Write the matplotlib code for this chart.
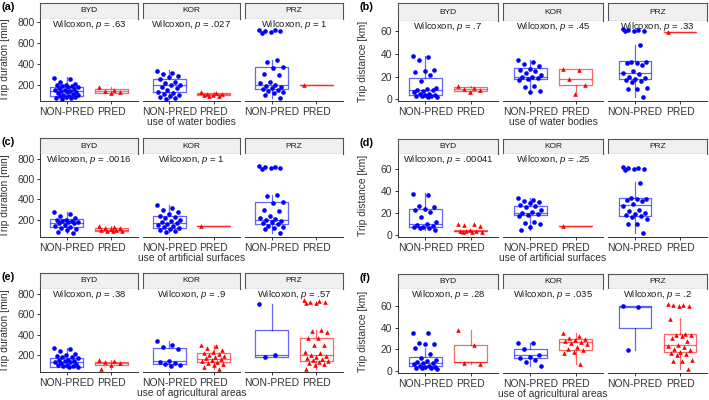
import numpy as np
import matplotlib.pyplot as plt

plt.rcParams['font.family'] = ['Liberation Sans', 'DejaVu Sans']
plt.rcParams['mathtext.fontset'] = 'custom'
plt.rcParams['mathtext.rm'] = 'Liberation Sans'
plt.rcParams['mathtext.it'] = 'Liberation Sans:italic'

sites = ['BYD', 'KOR', 'PRZ']
groups = ['NON-PRED', 'PRED']

# ---------------- data ----------------
# points per site, NON-PRED / PRED.  box stats = [whislo, q1, med, q3, whishi]

# (a) trip duration [min], use of water bodies
a_byd_non = [265, 250, 230, 210, 200, 195, 190, 185, 180, 175, 165, 160, 150, 145, 140,
             135, 130, 125, 120, 110, 105, 100, 95, 90, 85, 80, 75, 70, 65]
a_byd_pred = [180, 150, 140, 130, 120]
a_kor_non = [335, 315, 300, 285, 270, 250, 230, 215, 200, 195, 180, 165, 150, 130, 120,
             110, 100, 95, 85, 70, 60]
a_kor_pred = [130, 120, 115, 110, 105, 100, 95, 90]
a_prz_non = [730, 725, 720, 715, 710, 700, 440, 420, 370, 365, 300, 295, 230, 220, 200,
             190, 180, 170, 160, 150, 140, 130, 120, 100, 70]
a_prz_pred = [197]
a_box_non = [[60, 94, 142, 181, 270], [60, 127, 194, 258, 340], [70, 156, 197, 373, 440]]
a_box_pred = [[120, 123, 140, 161, 180], [90, 100, 110, 118, 130], [197, 197, 197, 197, 197]]
a_pvals = ['.63', '.027', '1']

# (b) trip distance [km], use of water bodies
b_byd_non = [38, 37, 35, 26, 25, 24, 21, 16, 10, 9, 8, 8, 7, 6, 5, 5, 4, 4, 3, 3, 3, 2, 2]
b_byd_pred = [12, 10, 9, 8, 6]
b_kor_non = [35, 33, 31, 29, 27, 26, 25, 23, 21, 20, 20, 19, 18, 17, 12, 11, 7, 6]
b_kor_pred = [27, 26, 18, 13, 5]
b_prz_non = [62, 61, 61, 60, 60, 60, 48, 33, 33, 32, 32, 30, 25, 23, 22, 20, 19, 18, 17,
             16, 15, 10, 9, 9, 2]
b_prz_pred = [59.4]
b_box_non = [[2, 3.9, 8.5, 18.5, 38], [6, 17.5, 19.6, 27.5, 35], [2, 17.5, 23, 33.6, 48]]
b_box_pred = [[6, 7.5, 9.5, 10.5, 12], [5, 13, 17.5, 26.6, 26.6], [59.4, 59.4, 59.4, 59.4, 59.4]]
b_pvals = ['.7', '.45', '.33']

# (c) trip duration [min], use of artificial surfaces
c_byd_non = [275, 260, 240, 220, 200, 195, 190, 185, 180, 175, 170, 165, 150, 140, 130,
             120, 110, 100, 80, 70]
c_byd_pred = [140, 130, 120, 115, 110, 100, 95, 90, 90, 90]
c_kor_non = [345, 320, 300, 280, 260, 240, 230, 220, 200, 190, 180, 170, 160, 150, 140,
             130, 120, 110, 100, 90, 80]
c_kor_pred = [134]
c_prz_non = [735, 725, 720, 715, 710, 700, 440, 430, 370, 365, 300, 290, 235, 220, 210,
             200, 190, 180, 170, 160, 140, 130, 120, 110, 70]
c_prz_pred = []
c_box_non = [[70, 124, 167, 207, 275], [80, 118, 167, 233, 345], [70, 157, 200, 374, 446]]
c_box_pred = [[90, 92, 100, 118, 140], [134, 134, 134, 134, 134], None]
c_pvals = ['.0016', '1', None]

# (d) trip distance [km], use of artificial surfaces
d_byd_non = [37, 36, 26, 25, 24, 23, 21, 16, 12, 10, 9, 8, 7, 7, 6, 6, 5]
d_byd_pred = [10, 10, 9, 8, 5, 4, 4, 4, 3, 3, 3]
d_kor_non = [34, 32, 31, 30, 29, 27, 26, 25, 23, 21, 20, 19, 18, 17, 12, 11, 10, 7, 5]
d_kor_pred = [7.8]
d_prz_non = [62, 61, 61, 60, 60, 59, 47, 34, 33, 33, 32, 31, 28, 26, 23, 22, 20, 19, 18,
             17, 16, 15, 10, 10, 2]
d_prz_pred = []
d_box_non = [[5, 6.9, 10, 23.6, 38], [5, 17.8, 20, 26.6, 34], [2, 16.9, 26.9, 33.6, 48]]
d_box_pred = [[3, 3.3, 3.8, 4.8, 5], [7.8, 7.8, 7.8, 7.8, 7.8], None]
d_pvals = ['.00041', '.25', None]

# (e) trip duration [min], use of agricultural areas
e_byd_non = [265, 255, 240, 210, 195, 185, 180, 175, 165, 150, 145, 140, 135, 130, 125,
             120, 110, 100, 95, 90, 85, 80, 75]
e_byd_pred = [150, 140, 130, 120, 100, 60]
e_kor_non = [335, 300, 280, 260, 140, 130, 120, 110, 100, 90]
e_kor_pred = [300, 290, 270, 250, 230, 220, 210, 200, 190, 180, 170, 160, 150, 140, 130,
              120, 110, 100, 80, 60]
e_prz_non = [705, 195, 175]
e_prz_pred = [740, 730, 725, 720, 715, 710, 450, 440, 430, 370, 365, 300, 295, 230, 220,
              200, 190, 180, 170, 160, 150, 140, 130, 120, 110, 100, 60]
e_box_non = [[75, 79, 124, 173, 265], [90, 111, 134, 266, 335], [175, 180, 200, 446, 705]]
e_box_pred = [[60, 95, 120, 124, 150], [60, 124, 158, 217, 300], [60, 134, 200, 371, 446]]
e_pvals = ['.38', '.9', '.57']

# (f) trip distance [km], use of agricultural areas
f_byd_non = [35, 35, 26, 25, 25, 21, 16, 12, 10, 9, 8, 7, 7, 6, 5, 5, 4, 4, 3, 3, 3, 2]
f_byd_pred = [38, 24, 7, 6]
f_kor_non = [26, 26, 20, 15, 13, 12, 10, 8, 5]
f_kor_pred = [35, 32, 31, 30, 29, 28, 27, 26, 25, 22, 20, 19, 18, 17, 6]
f_prz_non = [60, 59, 19]
f_prz_pred = [62, 61, 61, 60, 60, 48, 34, 33, 33, 32, 31, 28, 24, 23, 22, 20, 19, 18, 17,
              16, 15, 10, 9, 9, 2]
f_box_non = [[2, 4.7, 7.8, 12.8, 21], [5, 11.8, 15, 20.6, 26], [19, 39.5, 59.5, 60, 60]]
f_box_pred = [[6, 8, 8.7, 24, 38], [6, 19, 27, 29.6, 35], [2, 18, 24.3, 34.6, 49]]
f_pvals = ['.28', '.035', '.2']

# ---------------- layout (pixels) ----------------
W, H = 709, 400
fig = plt.figure(figsize=(W / 100, H / 100), dpi=100)

left_x = [(40, 138), (143, 240), (245, 343)]
right_x = [(398, 498), (503, 603), (608, 707)]
dur_lim = (43, 832)
dist_lim = (-1.5, 69)
dur_ticks = [200, 400, 600, 800]
dist_ticks = [0, 20, 40, 60]

TXT = '#333333'
AX = '#333333'
colors = ['#0000FF', '#FF0000']
markers = ['o', '^']


def px_axes(x0, x1, y0, y1):
    return fig.add_axes([x0 / W, 1 - y1 / H, (x1 - x0) / W, (y1 - y0) / H])


def jitter(n):
    # fixed spread pattern instead of random jitter
    return ((np.arange(n) * 0.618034) % 1 - 0.5) * 0.55


def draw_panel(tag, fx, strip_y, plot_y, ylim, yticks, ylabel, xlabel, pts, boxes, pvals):
    for k, site in enumerate(sites):
        x0, x1 = fx[k]
        sax = px_axes(x0, x1, strip_y[0], strip_y[1])
        sax.set_facecolor('#F0F0F0')
        sax.set_xticks([])
        sax.set_yticks([])
        for s in sax.spines.values():
            s.set_color('#555555')
            s.set_linewidth(0.8)
        sax.text(0.5, 0.5, site, ha='center', va='center', fontsize=6, color='#1A1A1A',
                 transform=sax.transAxes)

        ax = px_axes(x0, x1, plot_y[0], plot_y[1])
        ax.set_xlim(0.4, 2.6)
        ax.set_ylim(*ylim)
        for sp in ['top', 'right']:
            ax.spines[sp].set_visible(False)
        ax.spines['bottom'].set_color(AX)
        ax.spines['bottom'].set_linewidth(0.7)
        if k == 0:
            ax.spines['left'].set_color(AX)
            ax.spines['left'].set_linewidth(0.7)
            ax.set_yticks(yticks)
            ax.tick_params(axis='y', labelsize=7.4, colors=TXT, length=2.5, width=0.7, pad=1.5)
        else:
            ax.spines['left'].set_visible(False)
            ax.set_yticks([])

        for g in range(2):
            c = colors[g]
            b = boxes[g][k]
            if b is not None:
                st = dict(whislo=b[0], q1=b[1], med=b[2], q3=b[3], whishi=b[4], fliers=[])
                lp = dict(color=c, alpha=0.6, linewidth=0.9)
                ax.bxp([st], positions=[g + 1], widths=0.73, showcaps=False,
                       showfliers=False, boxprops=lp, whiskerprops=lp, medianprops=lp)
            v = pts[g][k]
            if len(v):
                ax.scatter(g + 1 + jitter(len(v)), v, s=11, c=c, marker=markers[g],
                           linewidths=0, zorder=3)
        ax.set_xlim(0.4, 2.6)
        ax.set_xticks([1, 2])
        ax.set_xticklabels(groups)
        ax.tick_params(axis='x', labelsize=7.4, colors=TXT, length=2.5, width=0.7, pad=1.5)

        if pvals[k] is not None:
            ax.annotate('Wilcoxon, $p$ = ' + pvals[k], xy=(0.5, 1), xycoords='axes fraction',
                        xytext=(0, -3.9), textcoords='offset points', ha='center',
                        va='center', fontsize=6.8, color='#1A1A1A')

    # axis titles
    xm = (fx[1][0] + fx[1][1]) / 2
    fig.text(xm / W, 1 - (plot_y[1] + 21) / H, xlabel, ha='center', va='center',
             fontsize=7.4, color=TXT)
    fig.text((fx[0][0] - 35) / W, 1 - (plot_y[0] + plot_y[1]) / 2 / H, ylabel,
             rotation=90, ha='center', va='center', fontsize=7.4, color=TXT)
    fig.text((fx[0][0] - 38) / W, 1 - (strip_y[0] + 4) / H, tag, ha='left', va='center',
             fontsize=7.8, fontweight='bold')


dur = 'Trip duration [min]'
dist = 'Trip distance [km]'

draw_panel('(a)', left_x, (3, 19), (19, 101), dur_lim, dur_ticks, dur,
           'use of water bodies',
           [[a_byd_non, a_kor_non, a_prz_non], [a_byd_pred, a_kor_pred, a_prz_pred]],
           [a_box_non, a_box_pred], a_pvals)
draw_panel('(b)', right_x, (3, 21), (21, 101), dist_lim, dist_ticks, dist,
           'use of water bodies',
           [[b_byd_non, b_kor_non, b_prz_non], [b_byd_pred, b_kor_pred, b_prz_pred]],
           [b_box_non, b_box_pred], b_pvals)
draw_panel('(c)', left_x, (138, 154), (154, 237), (29, 849), dur_ticks, dur,
           'use of artificial surfaces',
           [[c_byd_non, c_kor_non, c_prz_non], [c_byd_pred, c_kor_pred, c_prz_pred]],
           [c_box_non, c_box_pred], c_pvals)
draw_panel('(d)', right_x, (139, 154), (154, 237), (-1.8, 73.6), dist_ticks, dist,
           'use of artificial surfaces',
           [[d_byd_non, d_kor_non, d_prz_non], [d_byd_pred, d_kor_pred, d_prz_pred]],
           [d_box_non, d_box_pred], d_pvals)
draw_panel('(e)', left_x, (273, 289), (289, 372), (29.5, 852), dur_ticks, dur,
           'use of agricultural areas',
           [[e_byd_non, e_kor_non, e_prz_non], [e_byd_pred, e_kor_pred, e_prz_pred]],
           [e_box_non, e_box_pred], e_pvals)
draw_panel('(f)', right_x, (274, 289), (289, 373), (-1.9, 76), dist_ticks, dist,
           'use of agricultural areas',
           [[f_byd_non, f_kor_non, f_prz_non], [f_byd_pred, f_kor_pred, f_prz_pred]],
           [f_box_non, f_box_pred], f_pvals)

fig.savefig('out.png', dpi=100)
